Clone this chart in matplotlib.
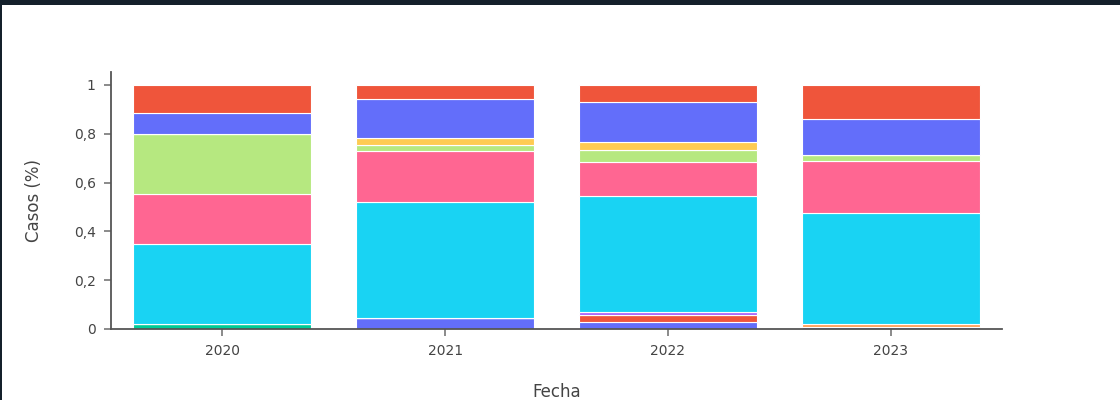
import matplotlib
matplotlib.use("Agg")
import matplotlib.pyplot as plt
import numpy as np
from matplotlib.patches import Rectangle

years = ["2020", "2021", "2022", "2023"]
series_names = ["S1", "S2", "S3", "S4", "S5", "S6", "S7", "S8", "S9", "S10", "S11", "S12"]
s1 = [0.000, 0.045, 0.030, 0.008]
s2 = [0.000, 0.000, 0.028, 0.000]
s3 = [0.020, 0.000, 0.000, 0.000]
s4 = [0.000, 0.000, 0.012, 0.000]
s5 = [0.000, 0.000, 0.000, 0.014]
s6 = [0.328, 0.475, 0.475, 0.453]
s7 = [0.205, 0.210, 0.139, 0.214]
s8 = [0.246, 0.024, 0.050, 0.024]
s9 = [0.000, 0.000, 0.000, 0.000]
s10 = [0.000, 0.029, 0.032, 0.000]
s11 = [0.086, 0.160, 0.164, 0.148]
s12 = [0.115, 0.057, 0.070, 0.139]
series = [s1, s2, s3, s4, s5, s6, s7, s8, s9, s10, s11, s12]
colors = ["#636EFA", "#EF553B", "#00CC96", "#AB63FA", "#FFA15A", "#19D3F3",
          "#FF6692", "#B6E880", "#FF97FF", "#FECB52", "#636EFA", "#EF553B"]
yticks = [0, 0.2, 0.4, 0.6, 0.8, 1.0]
ytick_labels = ["0", "0,2", "0,4", "0,6", "0,8", "1"]

fig = plt.figure(figsize=(11.2, 4.0), dpi=100)
fig.patch.set_facecolor("white")
# dark frame at top and left (screenshot border)
fig.patches.append(Rectangle((0, 1 - 5 / 400), 1, 5 / 400, transform=fig.transFigure,
                             facecolor="#14202b", edgecolor="none", zorder=10))
fig.patches.append(Rectangle((0, 0), 2 / 1120, 1, transform=fig.transFigure,
                             facecolor="#14202b", edgecolor="none", zorder=10))

ax = fig.add_axes([111 / 1120, 1 - 329 / 400, (1002 - 111) / 1120, (329 - 72) / 400])
x = np.arange(len(years))
bottom = np.zeros(len(years))
for name, vals, c in zip(series_names, series, colors):
    v = np.array(vals)
    ax.bar(x, v, width=0.8, bottom=bottom, color=c, edgecolor="white",
           linewidth=0.8, label=name)
    bottom += v

ax.set_xlim(-0.5, 3.5)
ax.set_ylim(0, 1.053)
ax.set_xticks(x)
ax.set_xticklabels(years)
ax.set_yticks(yticks)
ax.set_yticklabels(ytick_labels)
for s in ["top", "right"]:
    ax.spines[s].set_visible(False)
for s in ["left", "bottom"]:
    ax.spines[s].set_color("#555555")
    ax.spines[s].set_linewidth(1.3)
ax.tick_params(axis="both", colors="#777777", labelcolor="#444444", labelsize=10,
               length=5, width=1.2, pad=6)
ax.set_xlabel("Fecha", fontsize=12, color="#444444", labelpad=18)
ax.set_ylabel("Casos (%)", fontsize=12, color="#444444", labelpad=22)

fig.savefig("out.png", dpi=100)
